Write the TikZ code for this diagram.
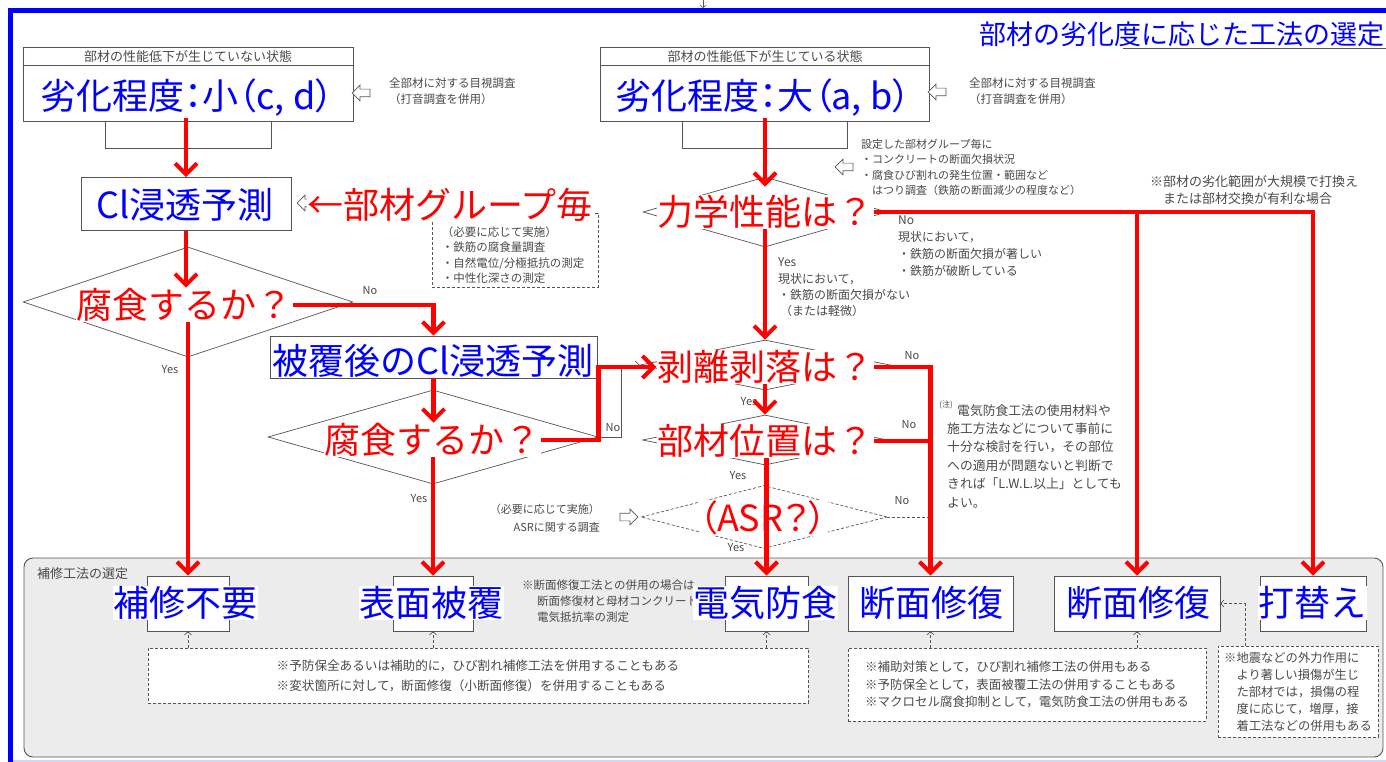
\documentclass[tikz,border=0pt]{standalone}
\usepackage{fontspec}
\setmainfont{Noto Sans CJK JP}
\newfontfamily\jp{Noto Sans CJK JP}
\newfontfamily\jpp[RawFeature=+palt]{Noto Sans CJK JP}
\usetikzlibrary{arrows.meta,shapes.geometric,shapes.arrows}
\definecolor{gtext}{HTML}{4A4A4A}
\definecolor{gline}{HTML}{555555}
\definecolor{panelfill}{HTML}{ECECEC}
\definecolor{lav}{HTML}{D4D4F8}
\begin{document}
\begin{tikzpicture}[x=1pt,y=-1pt,
  big/.style={font=\jp\fontsize{36}{40}\selectfont, inner sep=0.5pt, fill=white},
  bt/.style={big, text=blue},
  rt/.style={big, text=red},
  st/.style={font=\jp\fontsize{11.5}{16}\selectfont, text=gtext, inner sep=0pt, align=left},
  yn/.style={font=\jp\fontsize{11}{13}\selectfont, text=gtext, inner sep=0pt},
  gbox/.style={draw=gline, line width=0.8pt, fill=white, inner sep=0pt},
  dia/.style={diamond, draw=gline, line width=0.7pt, inner sep=0pt},
  gdash/.style={draw=gline, line width=0.7pt, dash pattern=on 3pt off 2pt},
  notebox/.style={gdash, fill=white, inner sep=2pt, align=left, text=gtext},
  hol/.style={single arrow, draw=gline, fill=white, line width=0.7pt, inner sep=3.5pt, minimum height=18pt, single arrow head extend=4pt},
  ra/.style={draw=red, line width=4.5pt, -{Straight Barb[length=11pt,width=22pt,line width=4pt]}},
  rl/.style={draw=red, line width=4.5pt},
  garr/.style={gdash, -{Straight Barb[length=3pt,width=7pt,line width=0.7pt]}},
  garrs/.style={draw=gline, line width=0.7pt, -{Straight Barb[length=4pt,width=8pt,line width=0.7pt]}}
]
% background and bounding box
\fill[white] (0,0) rectangle (1386,762);
\useasboundingbox (0,0) rectangle (1386,762);

% frame
\draw[blue, line width=4.5pt] (10.5,762) -- (10.5,10.5) -- (1386,10.5);
\draw[lav, line width=2pt] (12.75,760.5) -- (1386,760.5);
\coordinate (topA) at (703,0);
\coordinate (topB) at (703,8);
\draw[draw=gline, line width=0.6pt, -{Straight Barb[length=2.5pt,width=6pt,line width=0.6pt]}] (topA) -- (topB);

% title
\node[font=\jp\fontsize{27}{27}\selectfont, text=blue, inner sep=0pt, anchor=west] (title) at (979,34) {部材の劣化度に応じた工法の選定};
\draw[gline, line width=1.5pt] (1123,48.5) -- (1386,48.5);

% bottom panel
\node[draw=gline, line width=0.9pt, fill=panelfill, rounded corners=9pt, minimum width=1359pt, minimum height=199pt, inner sep=0pt] (panel) at (703.5,657.5) {};
\node[st, font=\jp\fontsize{13}{15}\selectfont, anchor=west] (panelT) at (37,574) {補修工法の選定};

% top-left block
\node[gbox, minimum width=330pt, minimum height=74pt] (boxL) at (188,84) {};
\draw[gline, line width=0.8pt] ([yshift=-19pt]boxL.north west) -- ([yshift=-19pt]boxL.north east);
\node[st, font=\jp\fontsize{13}{15}\selectfont] (hdrL) at (188,57) {部材の性能低下が生じていない状態};
\node[gbox, minimum width=166pt, minimum height=27pt, anchor=north] (subL) at (boxL.south) {};
\node[hol, shape border rotate=180] (holL) at (363,93) {};
\node[st, anchor=west] (visL) at (389,91) {全部材に対する目視調査\\（打音調査を併用）};

% top-right block
\node[gbox, minimum width=329pt, minimum height=74pt] (boxR) at (764.5,84) {};
\draw[gline, line width=0.8pt] ([yshift=-19pt]boxR.north west) -- ([yshift=-19pt]boxR.north east);
\node[st, font=\jp\fontsize{13}{15}\selectfont] (hdrR) at (765,57) {部材の性能低下が生じている状態};
\node[gbox, minimum width=165pt, minimum height=27pt, anchor=north] (subR) at (boxR.south) {};
\node[hol, shape border rotate=180] (holR) at (939,92) {};
\node[st, anchor=west] (visR) at (969,91) {全部材に対する目視調査\\（打音調査を併用）};

% left column shapes
\node[gbox, minimum width=210pt, minimum height=53pt] (clBox) at (186,204) {};
\node[hol, shape border rotate=180] (holCl) at (308,203) {};
\node[gdash, fill=white, minimum width=166pt, minimum height=74pt, inner sep=0pt] (chk) at (515,250) {};
\node[st, font=\jp\fontsize{11.5}{15.5}\selectfont] (chkT) at (513,255) {（必要に応じて実施）\\・鉄筋の腐食量調査\\・自然電位/分極抵抗の測定\\・中性化深さの測定};
\node[dia, minimum width=330pt, minimum height=110pt] (d1) at (188,302) {};
\node[gbox, minimum width=327pt, minimum height=42pt] (cvBox) at (433.5,357) {};
\node[dia, minimum width=330pt, minimum height=94pt] (d2) at (433,437) {};

% right column shapes
\node[dia, minimum width=244pt, minimum height=70pt] (d3) at (765,212) {};
\node[dia, minimum width=250pt, minimum height=50pt] (d4) at (765,365) {};
\node[dia, minimum width=245pt, minimum height=50pt] (d5) at (765,440) {};
\node[dia, dash pattern=on 3pt off 2pt, minimum width=246pt, minimum height=63pt] (d6) at (764,517) {};
\node[hol] (holA) at (627,517) {};
\node[st, anchor=east, align=right, font=\jp\fontsize{11}{18}\selectfont] (asrN) at (600,518) {（必要に応じて実施）\\ASRに関する調査};
\draw[garrs] (d2.east) -- ++(23,0) |- (d4.west);

% small texts right
\node[hol, shape border rotate=180] (holG) at (846,167) {};
\node[st, font=\jp\fontsize{11}{15.6}\selectfont, anchor=west] (grpN) at (861,167.5) {設定した部材グループ毎に\\・コンクリートの断面欠損状況\\・腐食ひび割れの発生位置・範囲など\\\phantom{・}はつり調査（鉄筋の断面減少の程度など）};
\node[st, font=\jp\fontsize{12}{17}\selectfont, anchor=west] (d3no) at (898,246) {No\\現状において，\\・鉄筋の断面欠損が著しい\\・鉄筋が破断している};
\node[st, font=\jp\fontsize{12}{16.3}\selectfont, anchor=west] (d3yes) at (778,287.5) {Yes\\現状において，\\・鉄筋の断面欠損がない\\\hspace*{2pt}（または軽微）};
\node[st, font=\jp\fontsize{13}{17}\selectfont, anchor=west] (bigN) at (1150,190.5) {※部材の劣化範囲が大規模で打換え\\\hphantom{※}または部材交換が有利な場合};
\node[st, font=\jp\fontsize{8}{8}\selectfont] (chuu) at (946,405) {(注)};
\node[st, font=\jp\fontsize{12.8}{18.4}\selectfont, anchor=west] (noteE) at (947,456) {\hspace*{10pt}電気防食工法の使用材料や\\施工方法などについて事前に\\十分な検討を行い，その部位\\への適用が問題ないと判断で\\きれば「L.W.L.以上」としても\\よい。};

% yes / no labels
\node[yn] (no1) at (370,291) {No};
\node[yn] (yes1) at (170,370) {Yes};
\node[yn] (no2) at (613,428) {No};
\node[yn] (yes2) at (419,499) {Yes};
\node[yn] (no4) at (912,356) {No};
\node[yn] (yes4) at (749,402) {Yes};
\node[yn] (no5) at (909,425) {No};
\node[yn] (yes5) at (738,476) {Yes};
\node[yn] (no6) at (902,501) {No};
\node[yn] (yes6) at (736,548) {Yes};

% result boxes
\node[gbox, minimum width=82pt, minimum height=55pt] (res1) at (188,603.5) {};
\node[gbox, minimum width=80pt, minimum height=55pt] (res2) at (433,603.5) {};
\node[gbox, minimum width=83pt, minimum height=55pt] (res3) at (766.5,603.5) {};
\node[gbox, minimum width=165pt, minimum height=55pt] (res4) at (930.5,603.5) {};
\node[gbox, minimum width=166pt, minimum height=55pt] (res5) at (1137,603.5) {};
\node[gbox, minimum width=106pt, minimum height=55pt] (res6) at (1313,603.5) {};
\draw[gdash] (d6.east) -- (d6.east -| res4.north);

% notes in panel
\node[st, anchor=west, font=\jp\fontsize{11.5}{16}\selectfont] (mixN) at (522,601) {※断面修復工法との併用の場合は\\\hspace*{15pt}断面修復材と母材コンクリートの\\\hspace*{15pt}電気抵抗率の測定};
\node[notebox, minimum width=660pt, minimum height=55pt, font=\jp\fontsize{12.6}{20}\selectfont] (noteA) at (478,675.5) {※予防保全あるいは補助的に，ひび割れ補修工法を併用することもある\\※変状箇所に対して，断面修復（小断面修復）を併用することもある};
\node[notebox, minimum width=358pt, minimum height=73pt, font=\jp\fontsize{12.5}{17.5}\selectfont] (noteB) at (1027,684.5) {※補助対策として，ひび割れ補修工法の併用もある\\※予防保全として，表面被覆工法の併用することもある\\※マクロセル腐食抑制として，電気防食工法の併用もある};
\node[notebox, minimum width=160pt, minimum height=91pt, font=\jp\fontsize{12.3}{17}\selectfont] (noteC) at (1298,691.5) {※地震などの外力作用に\\　より著しい損傷が生じ\\　た部材では，損傷の程\\　度に応じて，増厚，接\\　着工法などの併用もある};
\draw[garr] (noteA.north -| res1.south) -- (res1.south);
\draw[garr] (noteA.north -| res2.south) -- (res2.south);
\draw[garr] (noteA.north -| res3.south) -- (res3.south);
\draw[garr] (noteB.north -| res4.south) -- (res4.south);
\draw[garr] (noteB.north -| res5.south) -- (res5.south);
\draw[garr] ([xshift=-53pt]noteC.north) |- (res5.east);

% big labels
\node[bt, font=\jpp\fontsize{36}{40}\selectfont] (degL) at (187,98) {劣化程度：小（c, d）};
\node[bt, font=\jpp\fontsize{36}{40}\selectfont] (degR) at (763,98) {劣化程度：大（a, b）};
\node[bt] (clT) at (185,205) {Cl浸透予測};
\node[rt] (grpT) at (450,205) {←部材グループ毎};
\node[rt] (d1t) at (184,305) {腐食するか？};
\node[bt] (cvT) at (433,361) {被覆後のCl浸透予測};
\node[rt] (d2t) at (432,440) {腐食するか？};
\node[rt] (d3t) at (765,212) {力学性能は？};
\node[rt] (d4t) at (765,367) {剥離剥落は？};
\node[rt] (d5t) at (765,441) {部材位置は？};
\node[rt, font=\jpp\fontsize{36}{40}\selectfont] (d6t) at (763,518) {（ASR？）};
\node[bt] (r1t) at (185,603) {補修不要};
\node[bt] (r2t) at (431,603) {表面被覆};
\node[bt] (r3t) at (765,603) {電気防食};
\node[bt] (r4t) at (931,603) {断面修復};
\node[bt] (r5t) at (1138,603) {断面修復};
\node[bt] (r6t) at (1312,603) {打替え};

% red connectors
\draw[ra] (degL.south -| clBox.north) -- (clBox.north);
\draw[ra] (clBox.south) -- (clBox.south |- d1t.north);
\draw[ra] (d1t.south -| res1.north) -- (res1.north);
\draw[ra] (d1t.east) -| (cvBox.north);
\draw[ra] (cvBox.south) -- (cvBox.south |- d2t.north);
\draw[ra] (d2t.south -| res2.north) -- (res2.north);
\draw[ra] (d2t.east) -- (d2t.east -| d2.east) |- (d4t.west);
\draw[ra] (degR.south -| d3.north) -- ([yshift=8pt]d3t.north);
\draw[ra] (d3t.south) -- (d4.north);
\draw[ra] (d4t.south) -- (d5.north);
\draw[ra] (d5t.south -| res3.north) -- (res3.north);
\draw[ra] (d3t.east) -| (res6.north);
\draw[ra] (d3t.east -| res5.north) -- (res5.north);
\draw[ra] (d4t.east) -| (res4.north);
\draw[rl] (d5t.east) -- (d5t.east -| res4.north);
\end{tikzpicture}
\end{document}
